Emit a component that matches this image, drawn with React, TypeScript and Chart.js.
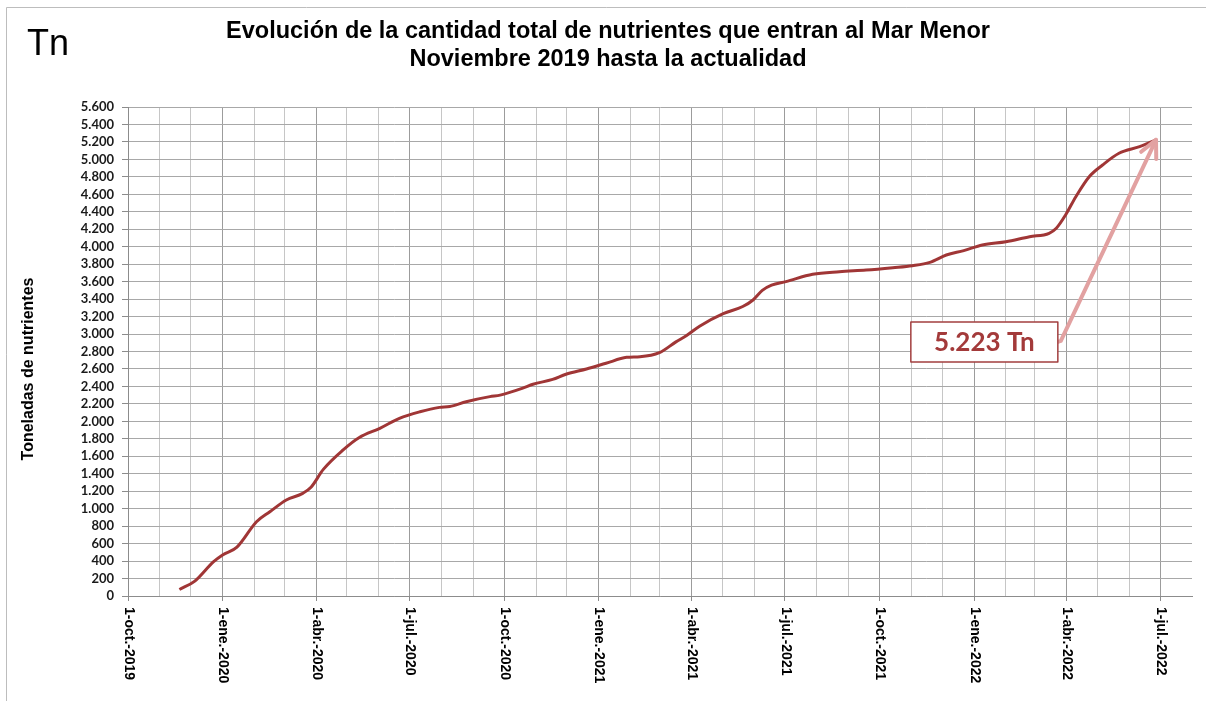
import { useEffect, useRef } from "react";
import { Chart, registerables } from "chart.js";

Chart.register(...registerables);

// ---------- DATA ----------
const AXIS_START = "2019-10-01";
const AXIS_END = "2022-08-01";

const DATES = [
  "2019-11-20", "2019-12-05", "2019-12-23", "2020-01-01", "2020-01-15",
  "2020-02-03", "2020-02-16", "2020-03-03", "2020-03-19", "2020-03-27",
  "2020-04-08", "2020-04-27", "2020-05-13", "2020-06-02", "2020-06-21",
  "2020-07-11", "2020-07-30", "2020-08-09", "2020-08-25", "2020-09-17",
  "2020-09-27", "2020-10-19", "2020-10-29", "2020-11-17", "2020-11-30",
  "2020-12-20", "2021-01-08", "2021-01-28", "2021-02-10", "2021-03-01",
  "2021-03-17", "2021-03-27", "2021-04-09", "2021-05-02", "2021-05-21",
  "2021-05-31", "2021-06-09", "2021-06-18", "2021-07-02", "2021-07-28",
  "2021-08-23", "2021-09-18", "2021-10-14", "2021-11-02", "2021-11-19",
  "2021-12-05", "2021-12-22", "2022-01-09", "2022-02-01", "2022-02-24",
  "2022-03-15", "2022-03-22", "2022-03-31", "2022-04-10", "2022-04-23",
  "2022-05-06", "2022-05-22", "2022-06-11", "2022-06-27",
];

const VALUES = [
  75, 170, 390, 470, 560,
  850, 965, 1100, 1175, 1245,
  1450, 1670, 1815, 1920, 2035,
  2110, 2160, 2170, 2225, 2283,
  2300, 2380, 2425, 2480, 2540,
  2600, 2665, 2733, 2740, 2787,
  2910, 2980, 3090, 3233, 3315,
  3390, 3500, 3560, 3600, 3684,
  3714, 3733, 3760, 3783, 3821,
  3905, 3955, 4020, 4058, 4115,
  4154, 4211, 4363, 4573, 4802,
  4936, 5070, 5146, 5223,
];

const X_TICK_DATES = [
  "2019-10-01", "2020-01-01", "2020-04-01", "2020-07-01",
  "2020-10-01", "2021-01-01", "2021-04-01", "2021-07-01",
  "2021-10-01", "2022-01-01", "2022-04-01", "2022-07-01",
];
const X_TICK_LABELS = [
  "1-oct.-2019", "1-ene.-2020", "1-abr.-2020", "1-jul.-2020",
  "1-oct.-2020", "1-ene.-2021", "1-abr.-2021", "1-jul.-2021",
  "1-oct.-2021", "1-ene.-2022", "1-abr.-2022", "1-jul.-2022",
];

const Y_MIN = 0;
const Y_MAX = 5600;
const Y_STEP = 200;

const TITLE_LINES = [
  "Evolución de la cantidad total de nutrientes que entran al Mar Menor",
  "Noviembre 2019 hasta la actualidad",
];
const UNIT_LABEL = "Tn";
const Y_TITLE = "Toneladas de nutrientes";
const ANNOT_TEXT = "5.223 Tn";
const ANNOT_DATE = "2022-01-11";
const ANNOT_VALUE = 2910;

// ---------- helpers ----------
const DAY_MS = 86400000;
function dayOf(s: string): number {
  const [y, m, d] = s.split("-").map(Number);
  const [y0, m0, d0] = AXIS_START.split("-").map(Number);
  return Math.round((Date.UTC(y, m - 1, d) - Date.UTC(y0, m0 - 1, d0)) / DAY_MS);
}

function monthTicks(): number[] {
  const out: number[] = [];
  const [y0, m0] = AXIS_START.split("-").map(Number);
  const lastLabel = X_TICK_DATES[X_TICK_DATES.length - 1];
  let y = y0;
  let m = m0;
  for (;;) {
    const s = `${y}-${String(m).padStart(2, "0")}-01`;
    out.push(dayOf(s));
    if (s === lastLabel) break;
    m += 1;
    if (m > 12) {
      m = 1;
      y += 1;
    }
  }
  return out;
}

function fmtThousands(v: number): string {
  return String(v).replace(/\B(?=(\d{3})+(?!\d))/g, ".");
}

const MONTH_TICKS = monthTicks();
const QUARTER_SET = new Set(X_TICK_DATES.map(dayOf));
const Y_TICKS: number[] = [];
for (let v = Y_MIN; v <= Y_MAX; v += Y_STEP) Y_TICKS.push(v);

const SANS = '"Liberation Sans", Arial, sans-serif';

const overlayPlugin = {
  id: "overlay",
  beforeDraw(chart: any) {
    const { ctx, width, height } = chart;
    ctx.save();
    ctx.fillStyle = "#ffffff";
    ctx.fillRect(0, 0, width, height);
    ctx.strokeStyle = "#bdbdbd";
    ctx.lineWidth = 1;
    ctx.beginPath();
    ctx.moveTo(6.5, height);
    ctx.lineTo(6.5, 7.5);
    ctx.lineTo(width, 7.5);
    ctx.stroke();
    ctx.restore();
  },
  afterDraw(chart: any) {
    const { ctx } = chart;
    const xs = chart.scales.x;
    const ys = chart.scales.y;
    ctx.save();

    // "Tn" unit label
    ctx.fillStyle = "#000";
    ctx.font = `36px ${SANS}`;
    ctx.textAlign = "left";
    ctx.textBaseline = "alphabetic";
    ctx.fillText(UNIT_LABEL, 27, 55);

    // Title
    ctx.font = `bold 23.5px ${SANS}`;
    ctx.textAlign = "center";
    ctx.textBaseline = "middle";
    ctx.fillText(TITLE_LINES[0], 608, 32);
    ctx.fillText(TITLE_LINES[1], 608, 60);

    // Y axis title
    ctx.save();
    ctx.translate(29, 369);
    ctx.rotate(-Math.PI / 2);
    ctx.font = `bold 16px ${SANS}`;
    ctx.textAlign = "center";
    ctx.textBaseline = "middle";
    ctx.fillText(Y_TITLE, 0, 0);
    ctx.restore();

    // X tick labels (rotated clockwise)
    ctx.font = `bold 14px ${SANS}`;
    ctx.textAlign = "left";
    ctx.textBaseline = "middle";
    ctx.fillStyle = "#000";
    X_TICK_DATES.forEach((d, i) => {
      const px = xs.getPixelForValue(dayOf(d));
      ctx.save();
      ctx.translate(px + 0.5, ys.bottom + 11);
      ctx.rotate(Math.PI / 2);
      ctx.fillText(X_TICK_LABELS[i], 0, 0);
      ctx.restore();
    });

    // Annotation box
    const cx = xs.getPixelForValue(dayOf(ANNOT_DATE));
    const cy = ys.getPixelForValue(ANNOT_VALUE);
    const bw = 147;
    const bh = 40;
    const bx = cx - bw / 2;
    const by = cy - bh / 2;

    // Arrow to last point
    const lastX = xs.getPixelForValue(dayOf(DATES[DATES.length - 1]));
    const lastY = ys.getPixelForValue(VALUES[VALUES.length - 1]);
    const sx = bx + bw + 3;
    const sy = cy - 1;
    ctx.strokeStyle = "#e2a1a1";
    ctx.lineWidth = 4;
    ctx.lineCap = "round";
    ctx.lineJoin = "round";
    ctx.beginPath();
    ctx.moveTo(bx + bw, cy);
    ctx.lineTo(sx, sy);
    ctx.lineTo(lastX, lastY);
    ctx.stroke();
    const ang = Math.atan2(sy - lastY, sx - lastX);
    const pl = 19;
    const spread = (26 * Math.PI) / 180;
    ctx.beginPath();
    ctx.moveTo(lastX + pl * Math.cos(ang + spread), lastY + pl * Math.sin(ang + spread));
    ctx.lineTo(lastX, lastY);
    ctx.lineTo(lastX + pl * Math.cos(ang - spread), lastY + pl * Math.sin(ang - spread));
    ctx.stroke();

    ctx.fillStyle = "#ffffff";
    ctx.fillRect(bx, by, bw, bh);
    ctx.strokeStyle = "#a23f3f";
    ctx.lineWidth = 1.5;
    ctx.strokeRect(bx, by, bw, bh);
    ctx.fillStyle = "#a33a3a";
    ctx.font = `bold 26px Lato, "Open Sans", sans-serif`;
    ctx.textAlign = "center";
    ctx.textBaseline = "middle";
    ctx.fillText(ANNOT_TEXT, cx, cy + 1);

    ctx.restore();
  },
};

export default function App() {
  const ref = useRef<HTMLCanvasElement | null>(null);

  useEffect(() => {
    if (!ref.current) return;
    const points = DATES.map((d, i) => ({ x: dayOf(d), y: VALUES[i] }));
    const chart = new Chart(ref.current, {
      type: "line",
      data: {
        datasets: [
          {
            label: "Toneladas",
            data: points,
            borderColor: "#a03636",
            borderWidth: 3,
            pointRadius: 0,
            fill: false,
            cubicInterpolationMode: "monotone",
          },
        ],
      },
      options: {
        animation: false,
        responsive: false,
        maintainAspectRatio: false,
        devicePixelRatio: 1,
        layout: { padding: { top: 107, right: 14, bottom: 0, left: 0 } },
        plugins: {
          legend: { display: false },
          tooltip: { enabled: false },
          title: { display: false },
        },
        scales: {
          x: {
            type: "linear",
            min: 0,
            max: dayOf(AXIS_END),
            afterFit(s: any) {
              s.height = 105;
            },
            afterBuildTicks(s: any) {
              s.ticks = MONTH_TICKS.map((v) => ({ value: v }));
            },
            ticks: { display: false, autoSkip: false },
            grid: {
              color: (c: any) =>
                c.tick && QUARTER_SET.has(c.tick.value) ? "#9c9c9c" : "#c6c6c6",
              tickColor: (c: any) =>
                c.tick && QUARTER_SET.has(c.tick.value) ? "#8c8c8c" : "rgba(0,0,0,0)",
              tickLength: 5,
              lineWidth: 1,
            },
            border: { color: "#8c8c8c", width: 1 },
          },
          y: {
            type: "linear",
            min: Y_MIN,
            max: Y_MAX,
            afterFit(s: any) {
              s.width = 128;
            },
            afterBuildTicks(s: any) {
              s.ticks = Y_TICKS.map((v) => ({ value: v }));
            },
            ticks: {
              autoSkip: false,
              padding: 8,
              color: "#1a1a1a",
              font: { family: "Lato", weight: "bold", size: 13 },
              callback: (v: any) => fmtThousands(Number(v)),
            },
            grid: {
              color: "#a8a8a8",
              lineWidth: 1,
              tickLength: 6,
              tickColor: "#8c8c8c",
            },
            border: { color: "#8c8c8c", width: 1 },
          },
        },
      },
      plugins: [overlayPlugin],
    } as any);
    return () => chart.destroy();
  }, []);

  return (
    <div style={{ position: "absolute", left: 0, top: 0, width: 1206, height: 701, background: "#fff" }}>
      <canvas ref={ref} width={1206} height={701} style={{ display: "block" }} />
    </div>
  );
}
